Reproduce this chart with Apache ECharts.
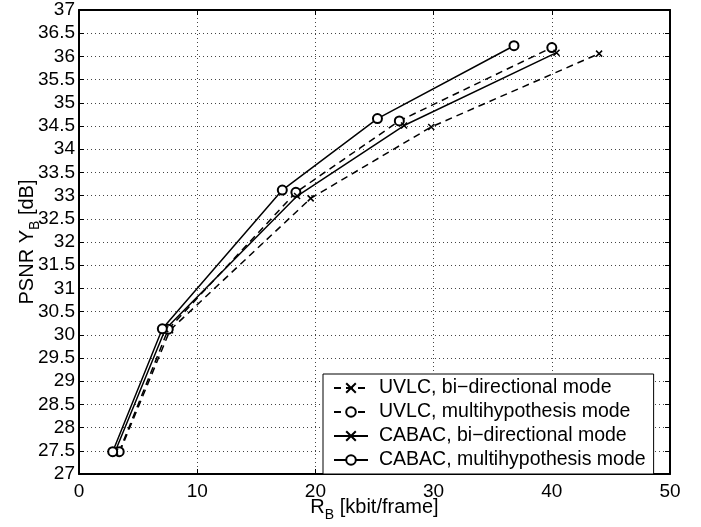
<!DOCTYPE html>
<html>
<head>
<meta charset="utf-8">
<script src="https://cdn.jsdelivr.net/npm/echarts@6/dist/echarts.min.js"></script>
<style>
html,body{margin:0;padding:0;background:#fff;}
#chart{width:701px;height:527px;}
</style>
</head>
<body>
<div id="chart"></div>
<script>
// Data
var seriesNames = [
  'UVLC, bi\u2212directional mode',
  'UVLC, multihypothesis mode',
  'CABAC, bi\u2212directional mode',
  'CABAC, multihypothesis mode'
];
var xUvlcBi   = [3.45, 7.7, 19.6, 29.8, 44.0];
var yUvlcBi   = [27.48, 30.1, 32.94, 34.48, 36.06];
var xUvlcMh   = [3.4, 7.55, 18.35, 27.1, 40.0];
var yUvlcMh   = [27.48, 30.12, 33.07, 34.61, 36.19];
var xCabacBi  = [3.05, 7.3, 18.45, 27.5, 40.4];
var yCabacBi  = [27.48, 30.12, 32.99, 34.51, 36.08];
var xCabacMh  = [2.85, 7.05, 17.2, 25.25, 36.8];
var yCabacMh  = [27.48, 30.13, 33.12, 34.66, 36.23];

var xMin = 0, xMax = 50, xStep = 10;
var yMin = 27, yMax = 37, yStep = 0.5;

function pairs(xs, ys) { return xs.map(function (x, i) { return [x, ys[i]]; }); }

var FONT = '"Liberation Sans", Arial, Helvetica, sans-serif';
var crossPath = 'path://M0,0L10,10M10,0L0,10';

function mkSeries(name, xs, ys, dashed, circle) {
  return {
    name: name,
    type: 'line',
    data: pairs(xs, ys),
    symbol: circle ? 'emptyCircle' : crossPath,
    symbolSize: circle ? 9 : 6,
    showSymbol: true,
    lineStyle: { color: '#000', width: 1.5, type: dashed ? [7, 5] : 'solid' },
    itemStyle: { color: '#000', borderColor: '#000', borderWidth: 1.5 },
    emphasis: { disabled: true },
    z: 3
  };
}

var chart = echarts.init(document.getElementById('chart'), null, { renderer: 'canvas' });
var gridLine = { show: true, lineStyle: { color: '#444', width: 1, type: [1, 3] } };
var frameLine = { show: true, onZero: false, lineStyle: { color: '#000', width: 2 } };
var nameRich = {
  r: { fontSize: 20, fontFamily: FONT, color: '#000', lineHeight: 22, verticalAlign: 'top' },
  s: { fontSize: 14, fontFamily: FONT, color: '#000', lineHeight: 15, padding: [11, 0, 0, 0], verticalAlign: 'top' }
};
var option = {
  animation: false,
  backgroundColor: '#fff',
  textStyle: { fontFamily: FONT },
  grid: { left: 79, right: 31, top: 10, bottom: 51, containLabel: false },
  legend: {
    orient: 'vertical',
    left: 323,
    top: 374,
    padding: [4, 8, 4, 10],
    backgroundColor: '#fff',
    borderColor: '#000',
    borderWidth: 1,
    borderRadius: 0,
    itemWidth: 34,
    itemHeight: 12,
    itemGap: 4,
    selectedMode: false,
    textStyle: { fontFamily: FONT, fontSize: 19.5, lineHeight: 19, color: '#000', padding: [0, 0, 0, 6] },
    data: seriesNames
  },
  xAxis: [{
    type: 'value', min: xMin, max: xMax, interval: xStep, position: 'bottom',
    axisLine: frameLine,
    axisTick: { show: true, inside: true, length: 5, lineStyle: { color: '#000', width: 1 } },
    axisLabel: { show: true, margin: 8, color: '#000', fontSize: 19, fontFamily: FONT },
    splitLine: gridLine,
    name: '{r|R}{s|B}{r| [kbit/frame]}',
    nameLocation: 'middle',
    nameGap: 23,
    nameMoveOverlap: false,
    nameTextStyle: { color: '#000', rich: nameRich }
  }, {
    type: 'value', min: xMin, max: xMax, interval: xStep, position: 'top',
    axisLine: frameLine,
    axisTick: { show: true, inside: true, length: 5, lineStyle: { color: '#000', width: 1 } },
    axisLabel: { show: false },
    splitLine: { show: false }
  }],
  yAxis: [{
    type: 'value', min: yMin, max: yMax, interval: yStep, position: 'left',
    axisLine: frameLine,
    axisTick: { show: true, inside: true, length: 5, lineStyle: { color: '#000', width: 1 } },
    axisLabel: { show: true, margin: 4, color: '#000', fontSize: 19, fontFamily: FONT },
    splitLine: gridLine,
    name: '{r|PSNR Y}{s|B}{r| [dB]}',
    nameLocation: 'middle',
    nameGap: 40,
    nameRotate: 90,
    nameMoveOverlap: false,
    nameTextStyle: { color: '#000', rich: nameRich }
  }, {
    type: 'value', min: yMin, max: yMax, interval: yStep, position: 'right',
    axisLine: frameLine,
    axisTick: { show: true, inside: true, length: 5, lineStyle: { color: '#000', width: 1 } },
    axisLabel: { show: false },
    splitLine: { show: false }
  }],
  series: [
    mkSeries(seriesNames[0], xUvlcBi, yUvlcBi, true, false),
    mkSeries(seriesNames[1], xUvlcMh, yUvlcMh, true, true),
    mkSeries(seriesNames[2], xCabacBi, yCabacBi, false, false),
    mkSeries(seriesNames[3], xCabacMh, yCabacMh, false, true)
  ]
};
chart.setOption(option);
</script>
</body>
</html>
